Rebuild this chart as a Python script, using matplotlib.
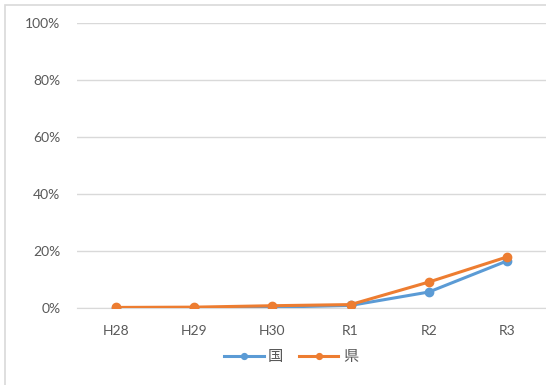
import matplotlib.pyplot as plt
import numpy as np
from matplotlib.patches import Rectangle

plt.rcParams['font.family'] = ['Lato', 'Noto Sans CJK JP', 'DejaVu Sans']

years = ["H28", "H29", "H30", "R1", "R2", "R3"]
kuni = [0.0, 0.0, 0.3, 0.9, 5.6, 16.5]   # 国
ken = [0.2, 0.3, 0.8, 1.2, 9.1, 17.9]    # 県

fig = plt.figure(figsize=(5.46, 3.85), dpi=100)
# outer chart border
fig.patches.append(Rectangle((5 / 546, -0.01), 1.0, 1 - 5 / 385 + 0.01,
                             transform=fig.transFigure, fill=False,
                             edgecolor="#d9d9d9", linewidth=1.2))

ax = fig.add_axes([77 / 546, 1 - 308 / 385, 469 / 546, 285 / 385])
x = np.arange(len(years))
ax.plot(x, kuni, color="#5b9bd5", linewidth=2.2, marker="o", markersize=6, label="国", zorder=3)
ax.plot(x, ken, color="#ed7d31", linewidth=2.2, marker="o", markersize=6, label="県", zorder=4)

ax.set_xlim(-0.5, len(years) - 0.5)
ax.set_ylim(0, 100)
ax.set_yticks(range(0, 101, 20))
ax.set_yticklabels([f"{v}%" for v in range(0, 101, 20)])
ax.set_xticks(x)
ax.set_xticklabels(years)
ax.grid(axis="y", color="#d9d9d9", linewidth=1)
ax.set_axisbelow(True)
for s in ax.spines.values():
    s.set_visible(False)
ax.spines["bottom"].set_visible(True)
ax.spines["bottom"].set_color("#d9d9d9")
ax.tick_params(length=0, colors="#595959", labelsize=10, pad=12)
ax.patch.set_alpha(0)

fig.legend(loc="center", bbox_to_anchor=(291 / 546, 1 - 357 / 385), ncol=2, frameon=False,
           fontsize=11, handlelength=2.6, columnspacing=1.0, handletextpad=0.3,
           markerscale=0.7, labelcolor="#595959")

fig.savefig("out.png", dpi=100)
